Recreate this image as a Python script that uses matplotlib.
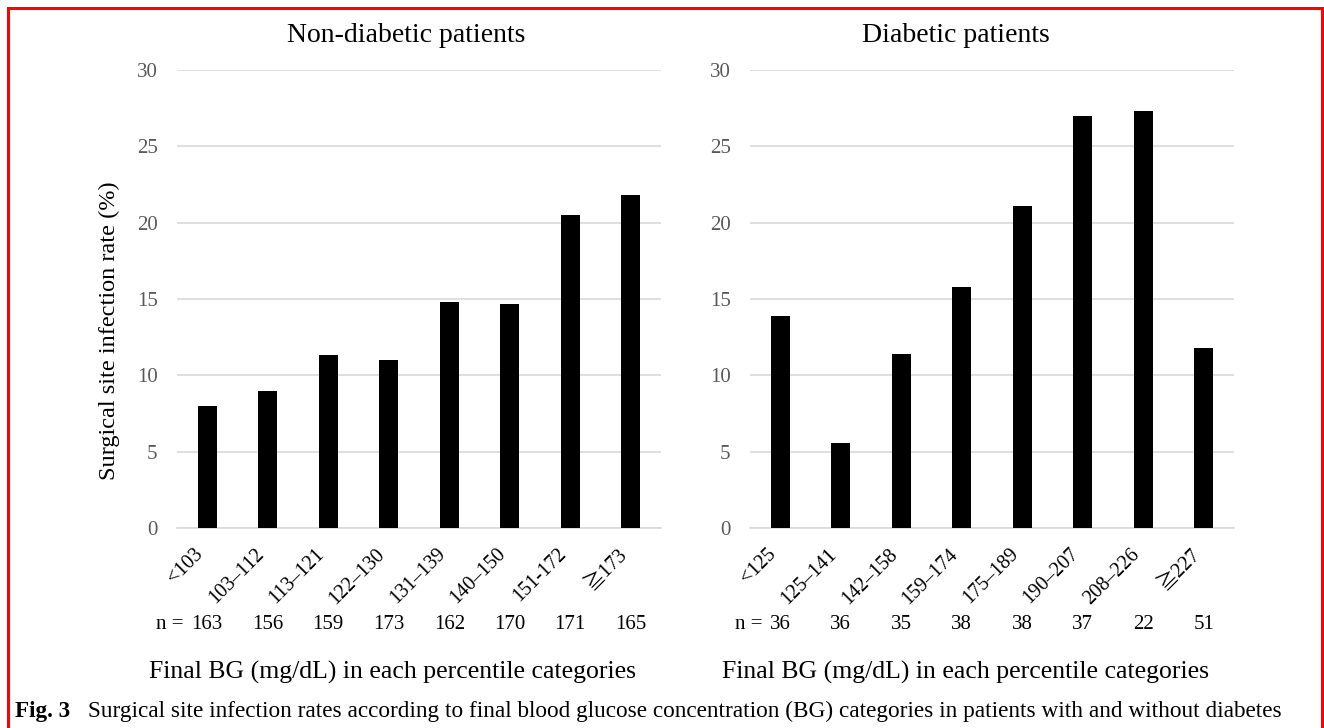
import matplotlib
matplotlib.use("Agg")
from matplotlib import pyplot as plt
from matplotlib.patches import Rectangle
import numpy as np

plt.rcParams['font.family'] = ['Liberation Serif', 'DejaVu Serif', 'Noto Sans CJK JP']

# SSI rate (%) by final BG percentile category
nondiab_cats = ["<103", "103\u2013112", "113\u2013121", "122\u2013130",
                "131\u2013139", "140\u2013150", "151-172", "\u2267173"]
nondiab_rate = [8.0, 9.0, 11.3, 11.0, 14.8, 14.7, 20.5, 21.8]
nondiab_n = [163, 156, 159, 173, 162, 170, 171, 165]

diab_cats = ["<125", "125\u2013141", "142\u2013158", "159\u2013174",
             "175\u2013189", "190\u2013207", "208\u2013226", "\u2267227"]
diab_rate = [13.9, 5.6, 11.4, 15.8, 21.1, 27.0, 27.3, 11.8]
diab_n = [36, 36, 35, 38, 38, 37, 22, 51]

W, H = 1324, 728
fig = plt.figure(figsize=(W / 100, H / 100), dpi=100)

grid_c = "#d9d9d9"
tick_c = "#595959"


def panel(x0, title, title_x, cats, rates, ns):
    ax = fig.add_axes([x0 / W, (H - 528) / H, 484 / W, 458 / H])
    x = np.arange(len(cats))
    ax.bar(x, rates, width=0.32, color="black", zorder=3)
    ax.set_xlim(-0.5, len(cats) - 0.5)
    ax.set_ylim(0, 30)
    ax.set_yticks(range(0, 31, 5))
    ax.yaxis.grid(True, color=grid_c, lw=1.2, zorder=0)
    for s in ["top", "right", "left"]:
        ax.spines[s].set_visible(False)
    ax.spines["bottom"].set_color(grid_c)
    ax.spines["bottom"].set_linewidth(1.2)
    ax.tick_params(axis="y", length=0, pad=14, labelsize=15, labelcolor=tick_c)
    ax.tick_params(axis="x", length=0, pad=12, labelsize=14.5)
    ax.set_xticks(x)
    ax.set_xticklabels(cats, rotation=45, ha="right")
    ax.set_title(title, fontsize=20, pad=20, x=title_x)
    for i, n in enumerate(ns):
        ax.text(i, -0.21, str(n), transform=ax.get_xaxis_transform(),
                ha="center", va="center", fontsize=15)
    ax.annotate("n = ", xy=(0, -0.21), xycoords=ax.get_xaxis_transform(),
                xytext=(-len(str(ns[0])) * 4.4, 0), textcoords="offset points",
                ha="right", va="center", fontsize=15)
    ax.text(0.446, -0.315, "Final BG (mg/dL) in each percentile categories",
            transform=ax.transAxes, ha="center", va="center", fontsize=18.5)
    return ax


ax1 = panel(177, "Non-diabetic patients", 0.473,
            nondiab_cats, nondiab_rate, nondiab_n)
ax1.set_ylabel("Surgical site infection rate (%)", fontsize=17.5)
ax1.yaxis.set_label_coords(-0.118, 0.43)
ax2 = panel(750, "Diabetic patients", 0.426, diab_cats, diab_rate, diab_n)

fig.text(15 / W, 1 - 711 / H, "Fig. 3", fontweight="bold", fontsize=16.7,
         ha="left", va="center")
fig.text(88 / W, 1 - 711 / H,
         "Surgical site infection rates according to final blood glucose "
         "concentration (BG) categories in patients with and without diabetes",
         fontsize=16.75, ha="left", va="center")

fig.patches.append(Rectangle((8 / W, -0.05), (1322 - 8) / W, 1 - 8 / H + 0.05,
                             transform=fig.transFigure, fill=False,
                             edgecolor="red", lw=2.2))

fig.savefig("out.png", dpi=100)
